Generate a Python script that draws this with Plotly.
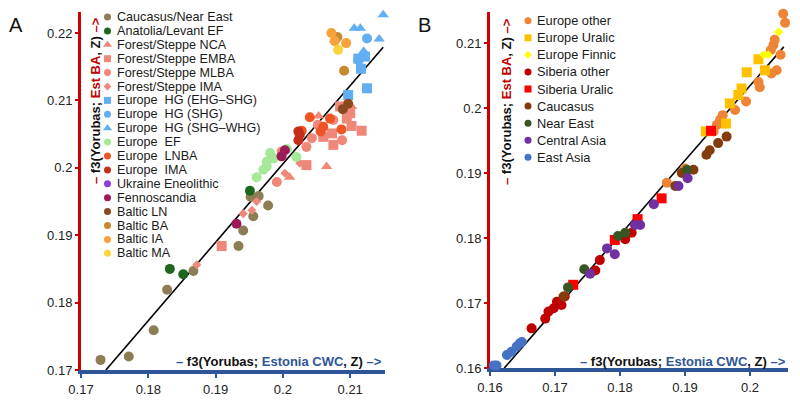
import plotly.graph_objects as go

# ---------------- Panel A data ----------------
a_cauc_x = [0.1729, 0.1771, 0.1808, 0.1828, 0.1867, 0.1934, 0.1941, 0.1956, 0.1978, 0.1952, 0.1964]
a_cauc_y = [0.1715, 0.1720, 0.1759, 0.1819, 0.1847, 0.1884, 0.1907, 0.1928, 0.1944, 0.1957, 0.1958]
a_anat_x = [0.1832, 0.1852, 0.1951]
a_anat_y = [0.1850, 0.1842, 0.1966]
a_nca_x = [0.2065, 0.2010, 0.2102, 0.2053]
a_nca_y = [0.2002, 0.1986, 0.2091, 0.2077]
a_emba_x = [0.1909, 0.2035, 0.2075, 0.2117, 0.2102, 0.2100, 0.2095, 0.2073, 0.2085, 0.2060]
a_emba_y = [0.1884, 0.2004, 0.2034, 0.2055, 0.2062, 0.2081, 0.2073, 0.2051, 0.2091, 0.2046]
a_mlba_x = [0.1991, 0.2035, 0.2075, 0.2052, 0.2043, 0.1998, 0.2088]
a_mlba_y = [0.1979, 0.2031, 0.2071, 0.2064, 0.2044, 0.2024, 0.2041]
a_ima_fs_x = [0.1872, 0.1941, 0.1954, 0.1961, 0.2025, 0.2003]
a_ima_fs_y = [0.1856, 0.1932, 0.1937, 0.1950, 0.2007, 0.1992]
a_ehgshg_x = [0.2097, 0.2125, 0.2116, 0.2112, 0.2122]
a_ehgshg_y = [0.2108, 0.2118, 0.2147, 0.2162, 0.2165]
a_shg_x = [0.2125, 0.2112]
a_shg_y = [0.2192, 0.2160]
a_shgwhg_x = [0.2149, 0.2106, 0.2115, 0.2143, 0.2120, 0.2077]
a_shgwhg_y = [0.2227, 0.2207, 0.2207, 0.2191, 0.2173, 0.2190]
a_ef_x = [0.1961, 0.1971, 0.1976, 0.1986, 0.1981, 0.2006, 0.2020, 0.1976]
a_ef_y = [0.1986, 0.1997, 0.2009, 0.2014, 0.2022, 0.2028, 0.2016, 0.2002]
a_lnba_x = [0.2040, 0.2070, 0.2087, 0.2056, 0.2028, 0.2060]
a_lnba_y = [0.2075, 0.2073, 0.2057, 0.2054, 0.2055, 0.2061]
a_eima_x = [0.2023, 0.2023, 0.2025]
a_eima_y = [0.2054, 0.2041, 0.2049]
a_ukr_x = []
a_ukr_y = []
a_fenn_x = [0.1998, 0.2003, 0.1931]
a_fenn_y = [0.2017, 0.2026, 0.1917]
a_bln_x = [0.2097, 0.2089]
a_bln_y = [0.2095, 0.2087]
a_bba_x = [0.2081, 0.2091]
a_bba_y = [0.2194, 0.2144]
a_bia_x = [0.2072, 0.2077, 0.2094]
a_bia_y = [0.2200, 0.2188, 0.2185]
a_bma_x = [0.2082]
a_bma_y = [0.2175]
a_fit_x = [0.1737, 0.2149]
a_fit_y = [0.1700, 0.2179]

# ---------------- Panel B data ----------------
b_eoth_x = [0.2051, 0.2054, 0.2038, 0.2036, 0.2032, 0.2047, 0.2041, 0.2033, 0.2013, 0.2015,
            0.1994, 0.1977, 0.1958, 0.1954, 0.1949, 0.1944, 0.1872, 0.1900]
b_eoth_y = [0.2145, 0.2131, 0.2105, 0.2097, 0.2089, 0.2082, 0.2058, 0.2053, 0.2040, 0.2032,
            0.2010, 0.1997, 0.1989, 0.1982, 0.1974, 0.1964, 0.1885, 0.1907]
b_eur_x = [0.2013, 0.2023, 0.1995, 0.1987, 0.1982, 0.1969, 0.1963, 0.1932]
b_eur_y = [0.2075, 0.2058, 0.2055, 0.2030, 0.2020, 0.2007, 0.1976, 0.1964]
b_efin_x = [0.2044, 0.2021, 0.2028]
b_efin_y = [0.2117, 0.2082, 0.2082]
b_soth_x = [0.1664, 0.1685, 0.1690, 0.1698, 0.1703, 0.1710, 0.1715, 0.1762, 0.1769, 0.1808, 0.1818]
b_soth_y = [0.1661, 0.1676, 0.1687, 0.1692, 0.1702, 0.1697, 0.1710, 0.1750, 0.1766, 0.1798, 0.1808]
b_sur_x = [0.1940, 0.1864, 0.1827, 0.1792, 0.1728]
b_sur_y = [0.1965, 0.1861, 0.1829, 0.1797, 0.1728]
b_cauc_x = [0.1933, 0.1938, 0.1951, 0.1964, 0.1913, 0.1895, 0.1885, 0.1713]
b_cauc_y = [0.1928, 0.1935, 0.1946, 0.1956, 0.1905, 0.1900, 0.1880, 0.1710]
b_ne_x = [0.1903, 0.1808, 0.1797, 0.1745, 0.1720]
b_ne_y = [0.1905, 0.1808, 0.1803, 0.1752, 0.1724]
b_cas_x = [0.1904, 0.1890, 0.1852, 0.1831, 0.1823, 0.1780, 0.1792, 0.1754]
b_cas_y = [0.1892, 0.1880, 0.1852, 0.1820, 0.1820, 0.1784, 0.1775, 0.1745]
b_eas_x = [0.1606, 0.1610, 0.1626, 0.1633, 0.1641, 0.1646, 0.1649]
b_eas_y = [0.1604, 0.1604, 0.1620, 0.1625, 0.1633, 0.1638, 0.1640]
b_fit_x = [0.1622, 0.2052]
b_fit_y = [0.1600, 0.2094]

# ---------------- tick values ----------------
a_xticks = [0.17, 0.18, 0.19, 0.20, 0.21]
a_yticks = [0.17, 0.18, 0.19, 0.20, 0.21, 0.22]
b_xticks = [0.16, 0.17, 0.18, 0.19, 0.20]
b_yticks = [0.16, 0.17, 0.18, 0.19, 0.20, 0.21]

# ---------------- styles ----------------
SALMON = "#EF8878"
HGBLUE = "#62AEF2"
A_SERIES = [
    ("Caucasus/Near East", a_cauc_x, a_cauc_y, "#8C7D55", "circle"),
    ("Anatolia/Levant EF", a_anat_x, a_anat_y, "#1E661E", "circle"),
    ("Forest/Steppe NCA", a_nca_x, a_nca_y, SALMON, "triangle-up"),
    ("Forest/Steppe EMBA", a_emba_x, a_emba_y, SALMON, "square"),
    ("Forest/Steppe MLBA", a_mlba_x, a_mlba_y, SALMON, "circle"),
    ("Forest/Steppe IMA", a_ima_fs_x, a_ima_fs_y, SALMON, "diamond"),
    ("Europe  HG (EHG–SHG)", a_ehgshg_x, a_ehgshg_y, HGBLUE, "square"),
    ("Europe  HG (SHG)", a_shg_x, a_shg_y, HGBLUE, "circle"),
    ("Europe  HG (SHG–WHG)", a_shgwhg_x, a_shgwhg_y, HGBLUE, "triangle-up"),
    ("Europe  EF", a_ef_x, a_ef_y, "#A5E898", "circle"),
    ("Europe  LNBA", a_lnba_x, a_lnba_y, "#EE5424", "circle"),
    ("Europe  IMA", a_eima_x, a_eima_y, "#C42E1C", "circle"),
    ("Ukraine Eneolithic", a_ukr_x, a_ukr_y, "#8A3FE0", "circle"),
    ("Fennoscandia", a_fenn_x, a_fenn_y, "#9C1A58", "circle"),
    ("Baltic LN", a_bln_x, a_bln_y, "#8A4A1E", "circle"),
    ("Baltic BA", a_bba_x, a_bba_y, "#C8892E", "circle"),
    ("Baltic IA", a_bia_x, a_bia_y, "#F5A33A", "circle"),
    ("Baltic MA", a_bma_x, a_bma_y, "#FAD43C", "circle"),
]
B_SERIES = [
    ("Europe other", b_eoth_x, b_eoth_y, "#ED8436", "circle"),
    ("Europe Uralic", b_eur_x, b_eur_y, "#FFC000", "square"),
    ("Europe Finnic", b_efin_x, b_efin_y, "#FFFF00", "diamond"),
    ("Siberia other", b_soth_x, b_soth_y, "#C00000", "circle"),
    ("Siberia Uralic", b_sur_x, b_sur_y, "#FF0000", "square"),
    ("Caucasus", b_cauc_x, b_cauc_y, "#843C0C", "circle"),
    ("Near East", b_ne_x, b_ne_y, "#375623", "circle"),
    ("Central Asia", b_cas_x, b_cas_y, "#7030A0", "circle"),
    ("East Asia", b_eas_x, b_eas_y, "#4472C4", "circle"),
]
SIZE = {"circle": 10, "square": 10, "triangle-up": 10, "diamond": 7}
LEG_SIZE = {"circle": 7, "square": 7, "triangle-up": 8, "diamond": 6}

RED = "#C00000"
BLUE = "#2F5597"
FONT = "Liberation Sans, Arial, sans-serif"
W, H = 800, 401

fig = go.Figure()

def add_panel(series, xa, ya, fit_x, fit_y):
    fig.add_trace(go.Scatter(x=fit_x, y=fit_y, mode="lines", xaxis=xa, yaxis=ya,
                             line=dict(color="black", width=1.6), showlegend=False,
                             hoverinfo="skip"))
    for name, xs, ys, col, sym in series:
        fig.add_trace(go.Scatter(x=xs, y=ys, mode="markers", name=name, xaxis=xa, yaxis=ya,
                                 cliponaxis=False, showlegend=False,
                                 marker=dict(color=col, symbol=sym, size=SIZE[sym],
                                             line=dict(width=0))))

add_panel(A_SERIES, "x", "y", a_fit_x, a_fit_y)
add_panel(B_SERIES, "x2", "y2", b_fit_x, b_fit_y)

# custom legends on a pixel-space overlay axis
def add_legend(series, mx, y0, dy, fsize):
    for i, (name, xs, ys, col, sym) in enumerate(series):
        yy = y0 + i * dy
        fig.add_trace(go.Scatter(x=[mx], y=[yy], mode="markers", xaxis="x3", yaxis="y3",
                                 showlegend=False, hoverinfo="skip", cliponaxis=False,
                                 marker=dict(color=col, symbol=sym, size=LEG_SIZE[sym])))
        fig.add_annotation(x=mx + 7, y=yy, xref="x3", yref="y3", text=name,
                           showarrow=False, xanchor="left", yanchor="middle",
                           font=dict(family=FONT, size=fsize, color="#1a1a1a"))

add_legend(A_SERIES, 107.5, 17, 13.9, 12.6)
add_legend(B_SERIES, 528, 20.7, 17.08, 12.8)

def ytitle(label):
    return (f"<b><span style='color:{RED}'>–</span> f3(Yorubas; "
            f"<span style='color:{RED}'>{label}</span>, Z) "
            f"<span style='color:{RED}'>–&gt;</span></b>")

def xtitle(label):
    return (f"<b><span style='color:{BLUE}'>–</span> f3(Yorubas; "
            f"<span style='color:{BLUE}'>{label}</span>, Z) "
            f"<span style='color:{BLUE}'>–&gt;</span></b>")

for (px, py) in [(95, 101), (506, 102)]:
    fig.add_annotation(x=px, y=py, xref="x3", yref="y3", text=ytitle("Est BA"),
                       textangle=-90, showarrow=False, xanchor="center", yanchor="middle",
                       font=dict(family=FONT, size=13, color="#111"))
for (px, py) in [(384, 361), (788, 361)]:
    fig.add_annotation(x=px, y=py, xref="x3", yref="y3", text=xtitle("Estonia CWC"),
                       showarrow=False, xanchor="right", yanchor="middle",
                       font=dict(family=FONT, size=13, color="#111"))
for (lab, px, py) in [("A", 16, 25), ("B", 424, 25)]:
    fig.add_annotation(x=px, y=py, xref="x3", yref="y3", text=lab, showarrow=False,
                       xanchor="center", yanchor="middle",
                       font=dict(family=FONT, size=20, color="#111"))

def xaxis(dom, rng, ticks, anchor):
    return dict(domain=dom, range=rng, tickvals=ticks, showgrid=False, zeroline=False,
                showline=True, linecolor=BLUE, linewidth=4, ticks="outside", ticklen=4,
                tickwidth=2, tickcolor=BLUE, layer="below traces", anchor=anchor,
                automargin=False, fixedrange=True,
                tickfont=dict(family=FONT, size=13, color="#222"))

def yaxis(dom, rng, ticks, anchor):
    return dict(domain=dom, range=rng, tickvals=ticks, showgrid=False, zeroline=False,
                showline=True, linecolor="#CC0000", linewidth=3, ticks="outside", ticklen=3,
                tickwidth=2, tickcolor="#CC0000", anchor=anchor, layer="below traces",
                automargin=False, fixedrange=True,
                tickfont=dict(family=FONT, size=13, color="#222"))

fig.update_layout(
    width=W, height=H, margin=dict(l=0, r=0, t=0, b=0, pad=0, autoexpand=False),
    paper_bgcolor="white", plot_bgcolor="rgba(0,0,0,0)", showlegend=False,
    hovermode=False,
    xaxis=xaxis([81 / W, 385 / W], [0.17, 0.17 + 304 / 6730], a_xticks, "y"),
    yaxis=yaxis([1 - 370 / H, 1 - 12 / H], [0.17, 0.17 + 358 / 6740], a_yticks, "x"),
    xaxis2=xaxis([490 / W, 788 / W], [0.16, 0.16 + 298 / 6500], b_xticks, "y2"),
    yaxis2=yaxis([1 - 368 / H, 1 - 12 / H], [0.16, 0.16 + 356 / 6500], b_yticks, "x2"),
    xaxis3=dict(domain=[0, 1], range=[0, W], visible=False, fixedrange=True,
                automargin=False, anchor="y3"),
    yaxis3=dict(domain=[0, 1], range=[H, 0], visible=False, fixedrange=True,
                automargin=False, anchor="x3"),
)

fig.write_html(
    "out.html",
    config={"displayModeBar": False},
    post_script="document.body.style.margin='0';document.body.style.overflow='hidden';",
)
